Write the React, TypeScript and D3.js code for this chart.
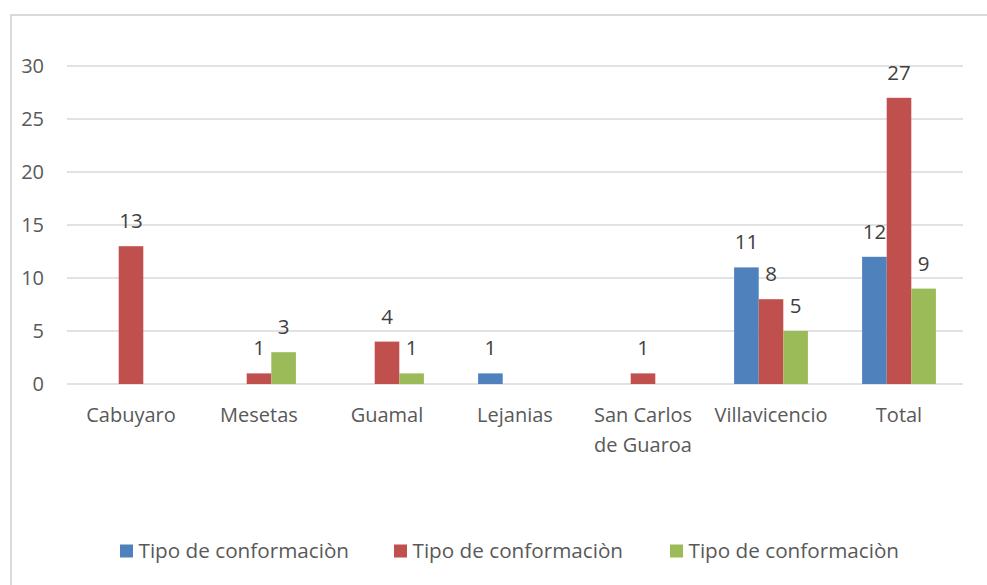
import * as d3 from "d3";
import React, { useRef, useEffect } from "react";

const categories = ["Cabuyaro", "Mesetas", "Guamal", "Lejanias", "San Carlos de Guaroa", "Villavicencio", "Total"];
const seriesNames = ["Tipo de conformaciòn", "Tipo de conformaciòn", "Tipo de conformaciòn"];
const serie1 = [null, null, null, 1, null, 11, 12];
const serie2 = [13, 1, 4, null, 1, 8, 27];
const serie3 = [null, 3, 1, null, null, 5, 9];
const colors = ["#4f81bd", "#c0504d", "#9bbb59"];
const yTicks = [0, 5, 10, 15, 20, 25, 30];

const FONT = "'Open Sans', sans-serif";

const App = () => {
    const ref = useRef(null);
    const svgWidth = 987
    const svgHeight = 585

    useEffect(() => {
        const svg = d3.select(ref.current);
        svg.selectAll("*").remove();

        const allSeries = [serie1, serie2, serie3];

        const x = d3.scaleBand()
            .domain(categories)
            .range([67, 963]);

        const y = d3.scaleLinear()
            .domain([0, 30])
            .range([384, 66]);

        const barW = 24.6
        const inner = d3.scaleBand()
            .domain(["0", "1", "2"])
            .range([-barW * 1.5, barW * 1.5]);

        // outer frame
        svg.append("rect")
            .attr("x", 11).attr("y", 15)
            .attr("width", 985).attr("height", 590)
            .attr("fill", "white")
            .attr("stroke", "#d9d9d9")
            .attr("stroke-width", 2);

        // grid
        svg.append("g")
            .selectAll("line")
            .data(yTicks)
            .enter()
            .append("line")
            .attr("x1", 67).attr("x2", 963)
            .attr("y1", d => y(d)).attr("y2", d => y(d))
            .attr("stroke", "#d9d9d9")
            .attr("stroke-width", 1.5);

        // y labels
        svg.append("g")
            .selectAll("text")
            .data(yTicks)
            .enter()
            .append("text")
            .attr("x", 44)
            .attr("y", d => y(d))
            .attr("dy", "0.36em")
            .attr("text-anchor", "end")
            .attr("font-family", FONT)
            .attr("font-size", 20)
            .attr("fill", "#595959")
            .text(d => d);

        // bars + labels
        allSeries.forEach((vals, si) => {
            const g = svg.append("g");
            const pts = categories
                .map((c, i) => ({ c, v: vals[i] }))
                .filter(d => d.v !== null);

            g.selectAll("rect")
                .data(pts)
                .enter()
                .append("rect")
                .attr("x", d => x(d.c) + x.bandwidth() / 2 + inner(String(si)))
                .attr("y", d => y(d.v))
                .attr("width", inner.bandwidth())
                .attr("height", d => y(0) - y(d.v))
                .attr("fill", colors[si]);

            g.selectAll("text")
                .data(pts)
                .enter()
                .append("text")
                .attr("x", d => x(d.c) + x.bandwidth() / 2 + inner(String(si)) + inner.bandwidth() / 2)
                .attr("y", d => y(d.v) - 18)
                .attr("text-anchor", "middle")
                .attr("font-family", FONT)
                .attr("font-size", 20.5)
                .attr("fill", "#404040")
                .text(d => d.v);
        });

        // category labels
        const cat = svg.append("g")
            .selectAll("text")
            .data(categories)
            .enter()
            .append("text")
            .attr("x", d => x(d) + x.bandwidth() / 2)
            .attr("y", 422)
            .attr("text-anchor", "middle")
            .attr("font-family", FONT)
            .attr("font-size", 20)
            .attr("fill", "#595959");
        cat.each(function (d) {
            const t = d3.select(this);
            const lines = d === "San Carlos de Guaroa" ? ["San Carlos", "de Guaroa"] : [d];
            lines.forEach((l, i) => {
                t.append("tspan")
                    .attr("x", x(d) + x.bandwidth() / 2)
                    .attr("dy", i === 0 ? 0 : 30)
                    .text(l);
            });
        });

        // legend
        const legendX = [120, 394, 670];
        const legend = svg.append("g")
            .selectAll("g")
            .data(seriesNames)
            .enter()
            .append("g")
            .attr("transform", (d, i) => `translate(${legendX[i]},551)`);
        legend.append("rect")
            .attr("x", 0).attr("y", -6.5)
            .attr("width", 13).attr("height", 13)
            .attr("fill", (d, i) => colors[i]);
        legend.append("text")
            .attr("x", 18.5)
            .attr("dy", "0.36em")
            .attr("font-family", FONT)
            .attr("font-size", 20.7)
            .attr("fill", "#595959")
            .text(d => d);
    }, [])

    return (
        <svg
            width={svgWidth}
            height={svgHeight}
            ref={ref}
            style={{ position: "absolute", left: 0, top: 0 }}
        />
    )
}

export default App
